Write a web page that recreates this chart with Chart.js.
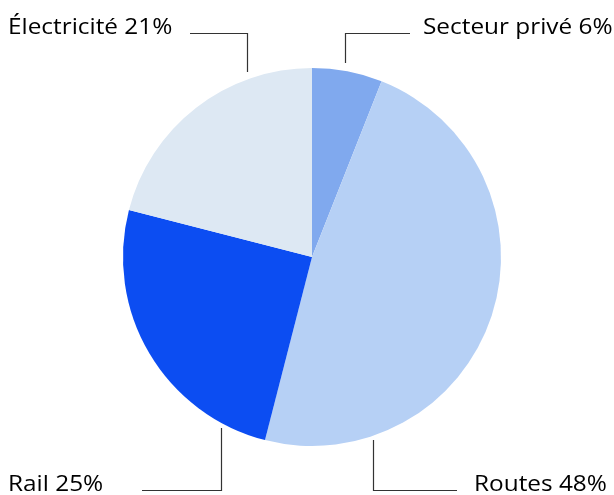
<!DOCTYPE html>
<html><head><meta charset="utf-8">
<script src="https://cdn.jsdelivr.net/npm/chart.js@4"></script>
<style>html,body{margin:0;padding:0;background:#fff}#wrap{width:614px;height:495px;position:relative}</style>
</head><body><div id="wrap"><canvas id="c"></canvas></div>
<script>
const categories = ['Secteur privé', 'Routes', 'Rail', 'Électricité'];
const values = [6, 48, 25, 21];
const colors = ['#80A9EE', '#B6D0F5', '#0C4DF2', '#DDE8F3'];

// leader layout: line x offset from centre, line end y, corner y, horizontal end x, text x
const leaderLayout = [
  {lx: 33,  ly: 63,  cy: 33,  hx: 410, tx: 423},
  {lx: 61,  ly: 440, cy: 490, hx: 457, tx: 474},
  {lx: -91, ly: 428, cy: 490, hx: 142, tx: 8},
  {lx: -65, ly: 72,  cy: 33,  hx: 190, tx: 8}
];

const labelPlugin = {
  id: 'leaders',
  afterDraw(chart) {
    const ctx = chart.ctx;
    const arc = chart.getDatasetMeta(0).data[0];
    const cx = arc.x;
    ctx.save();
    ctx.strokeStyle = '#333';
    ctx.lineWidth = 1.2;
    ctx.font = '21px "Open Sans", "Noto Sans", sans-serif';
    ctx.fillStyle = '#000';
    ctx.textBaseline = 'alphabetic';
    ctx.textAlign = 'left';
    categories.forEach((cat, i) => {
      const L = leaderLayout[i];
      const x = Math.round(cx + L.lx) + 0.5;
      ctx.beginPath();
      ctx.moveTo(x, L.ly);
      ctx.lineTo(x, L.cy + 0.5);
      ctx.lineTo(L.hx, L.cy + 0.5);
      ctx.stroke();
      ctx.save();
      ctx.translate(L.tx, L.cy + 1);
      ctx.scale(1.16, 1);
      ctx.fillText(cat + ' ' + values[i] + '%', 0, 0);
      ctx.restore();
    });
    ctx.restore();
  }
};

new Chart(document.getElementById('c'), {
  type: 'pie',
  data: {
    labels: categories,
    datasets: [{data: values, backgroundColor: colors, borderWidth: 0, hoverOffset: 0}]
  },
  options: {
    responsive: true,
    maintainAspectRatio: false,
    animation: false,
    layout: {padding: {top: 68, bottom: 49, left: 10, right: 0}},
    plugins: {legend: {display: false}, tooltip: {enabled: false}}
  },
  plugins: [labelPlugin]
});
</script></body></html>
